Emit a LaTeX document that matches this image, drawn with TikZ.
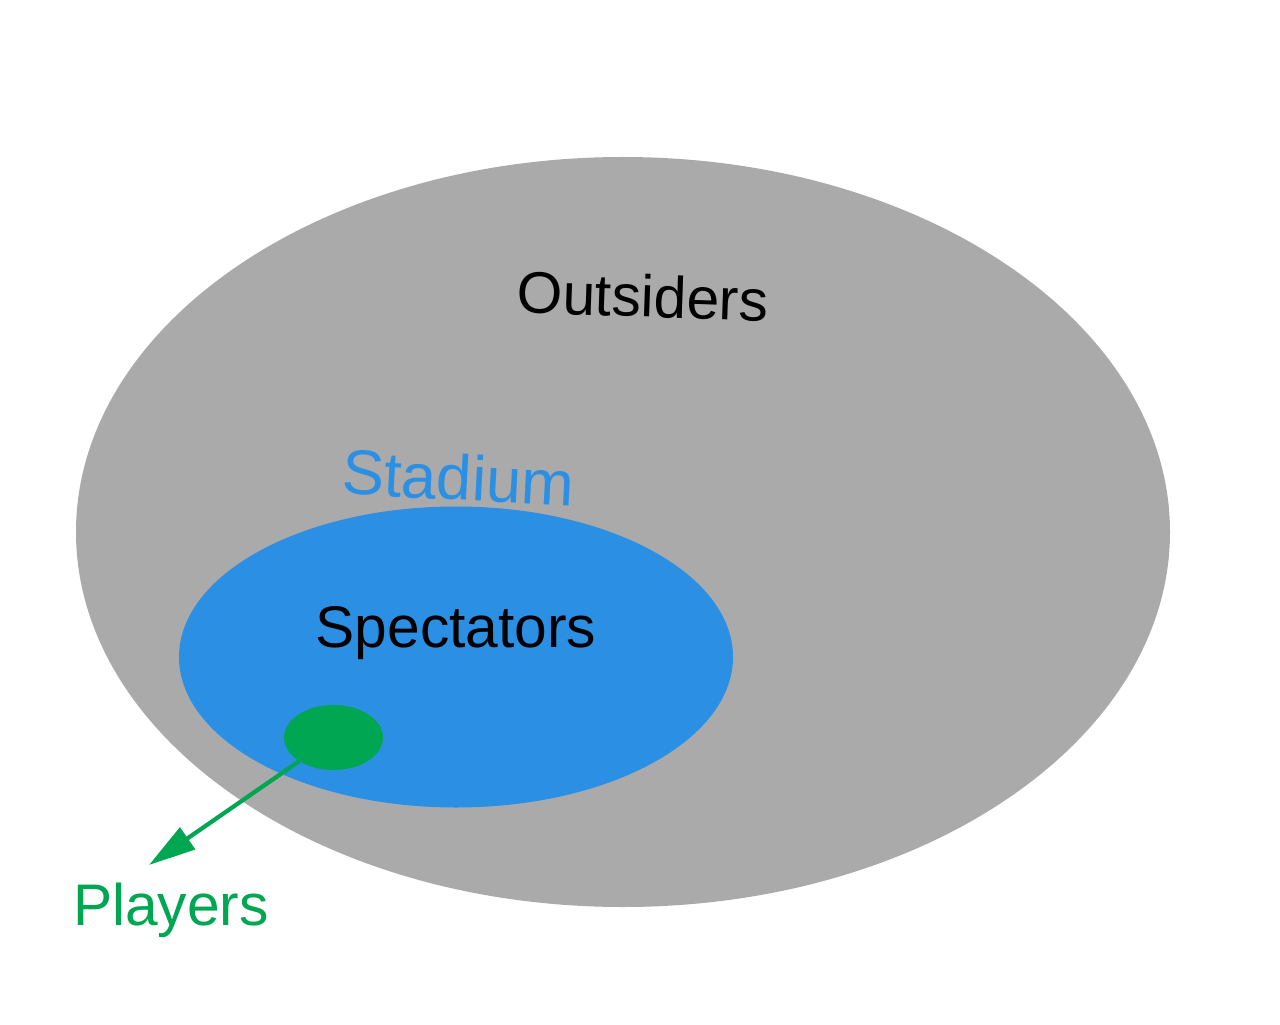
\documentclass[tikz,border=0pt]{standalone}
\usepackage{fontspec}
\setmainfont{Liberation Sans}
\usetikzlibrary{shapes.geometric}
\usetikzlibrary{arrows.meta}

\definecolor{outgray}{RGB}{170,170,170}
\definecolor{stadblue}{RGB}{43,144,228}
\definecolor{playgreen}{RGB}{0,166,81}

\begin{document}
\begin{tikzpicture}
  \tikzset{blob/.style={ellipse, inner sep=0pt, draw=none},
    lbl/.style={font=\fontsize{33.4}{40}\selectfont, inner sep=0pt, anchor=base}}
  \useasboundingbox (0,0) rectangle (25.6,20.48);
  \node[blob, fill=outgray, minimum width=21.88cm, minimum height=15cm] (outside) at (12.46,9.84) {};
  \node[blob, fill=stadblue, minimum width=11.08cm, minimum height=6.02cm] (stadium) at (9.12,7.34) {};
  \node[blob, fill=playgreen, minimum width=1.98cm, minimum height=1.3cm] (players) at (6.67,5.73) {};
  \node[lbl, rotate=-2] (outsiderslbl) at (12.84,14.14) {Outsiders};
  \node[lbl, rotate=-3, text=stadblue, font=\fontsize{36}{42}\selectfont] (stadiumlbl) at (9.14,10.48) {Stadium};
  \node[lbl] (spectatorslbl) at (9.12,7.54) {Spectators};
  \node[lbl, text=playgreen] (playerslbl) at (3.42,1.98) {Players};
  \coordinate (tip) at (2.98,3.18);
  \draw[playgreen, line width=2.4pt, -{Triangle[length=0.94cm, width=0.52cm]}] (players) -- (tip);
\end{tikzpicture}
\end{document}
